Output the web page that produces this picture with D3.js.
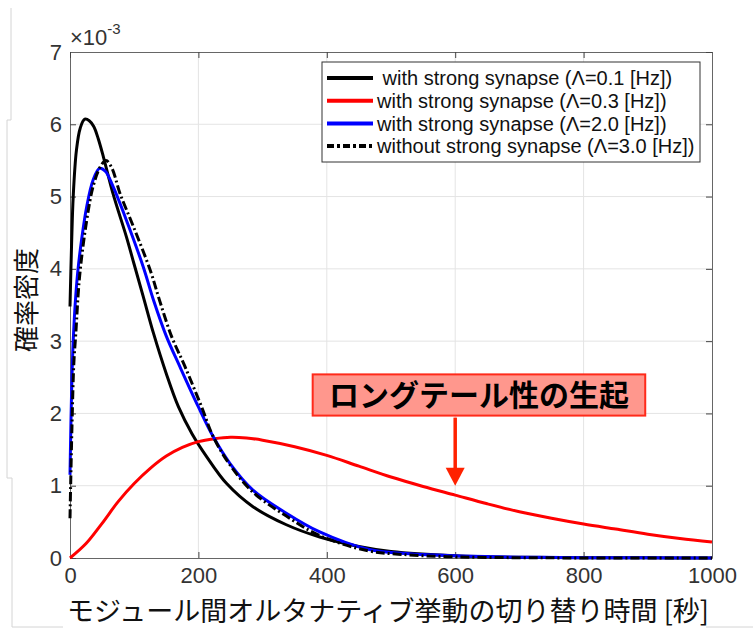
<!DOCTYPE html>
<html><head><meta charset="utf-8">
<script src="https://cdn.jsdelivr.net/npm/d3@7"></script>
<style>body{margin:0;background:#fff} svg{display:block}</style>
</head><body><svg id="c" width="753" height="630"></svg>
<script>
// ---- data ----
const xTicks = [0, 200, 400, 600, 800, 1000];
const yTicks = [0, 1, 2, 3, 4, 5, 6, 7];
const seriesNames = [" with strong synapse (Λ=0.1 [Hz])", "with strong synapse (Λ=0.3 [Hz])", "with strong synapse (Λ=2.0 [Hz])", "without strong synapse (Λ=3.0 [Hz])"];
const seriesColors = ["#000000", "#ff0000", "#0000ff", "#000000"];

const tBlack = [0, 2.5, 5, 10, 16, 23, 30, 37, 44, 52, 67, 88, 100, 114, 130, 150, 169, 190, 213, 244, 285, 337, 389, 450, 500, 600, 700, 800, 900, 1000];
const vBlack = [3.48, 4.35, 5.0, 5.64, 5.95, 6.07, 6.05, 5.97, 5.8, 5.55, 5.04, 4.44, 4.06, 3.62, 3.11, 2.55, 2.09, 1.72, 1.40, 1.03, 0.71, 0.46, 0.29, 0.16, 0.09, 0.03, 0.01, 0.004, 0.002, 0.001];

const tRed = [0, 25, 50, 75, 100, 125, 150, 175, 200, 225, 250, 275, 300, 350, 400, 450, 500, 550, 600, 650, 700, 750, 800, 850, 900, 950, 1000];
const vRed = [0, 0.2, 0.48, 0.78, 1.03, 1.24, 1.41, 1.53, 1.61, 1.65, 1.67, 1.66, 1.63, 1.54, 1.42, 1.27, 1.12, 0.99, 0.87, 0.75, 0.64, 0.55, 0.47, 0.40, 0.33, 0.27, 0.22];

const tBlue = [0, 1.5, 3, 5, 8, 12, 18, 26, 36, 46, 55, 67, 88, 114, 130, 150, 171, 200, 223, 249, 285, 337, 389, 464, 516, 600, 700, 800, 1000];
const vBlue = [1.15, 1.9, 2.5, 3.0, 3.5, 3.95, 4.4, 4.86, 5.23, 5.39, 5.35, 5.14, 4.67, 4.03, 3.57, 3.07, 2.65, 2.09, 1.68, 1.31, 0.94, 0.62, 0.36, 0.12, 0.065, 0.03, 0.012, 0.005, 0.001];

const tDash = [0, 1, 3, 6, 9, 15, 26, 36, 47, 56, 65, 78, 99, 125, 140, 158, 179, 205, 223, 249, 285, 337, 389, 464, 516, 600, 700, 800, 1000];
const vDash = [0.55, 1.0, 1.8, 2.7, 3.1, 3.9, 4.67, 5.14, 5.41, 5.5, 5.4, 5.04, 4.58, 3.98, 3.55, 3.07, 2.65, 2.09, 1.68, 1.29, 0.91, 0.58, 0.31, 0.10, 0.05, 0.015, 0.004, 0.001, 0];

const xLabel = "モジュール間オルタナティブ挙動の切り替り時間 [秒]";
const yLabel = "確率密度";
const noteText = "ロングテール性の生起";

// ---- drawing ----
const svg = d3.select("#c");
const M = {l: 70, r: 712, t: 52, b: 558};
const x = d3.scaleLinear().domain([0, 1000]).range([M.l, M.r]);
const y = d3.scaleLinear().domain([0, 7]).range([M.b, M.t]);
const numFont = "'Liberation Sans', Arial, Helvetica, sans-serif";
const jpFont = "'Noto Sans CJK JP', 'Noto Sans', sans-serif";

// faint frame artifacts
const art = svg.append("g").attr("stroke", "#d4d4d4").attr("fill", "none").attr("stroke-width", 1);
art.append("path").attr("d", "M11,8V120H7V478H12V627H63");
art.append("path").attr("d", "M706,627H753");

// grid
const grid = svg.append("g").attr("stroke", "#e4e4e4").attr("stroke-width", 1);
grid.selectAll(".gx").data(xTicks.slice(1, -1)).join("line")
  .attr("x1", d => x(d)).attr("x2", d => x(d)).attr("y1", M.t).attr("y2", M.b);
grid.selectAll(".gy").data(yTicks.slice(1, -1)).join("line")
  .attr("y1", d => y(d)).attr("y2", d => y(d)).attr("x1", M.l).attr("x2", M.r);

function styleAxis(g) {
  g.select(".domain").attr("stroke", "#666");
  g.selectAll(".tick line").attr("stroke", "#444");
  g.selectAll("text").attr("fill", "#333").style("font-family", numFont).style("font-size", "22px");
}
const fmt = d3.format("d");
svg.append("g").attr("transform", `translate(0,${M.b})`)
  .call(d3.axisBottom(x).tickValues(xTicks).tickFormat(fmt).tickSizeInner(-6).tickSizeOuter(0).tickPadding(9)).call(styleAxis);
svg.append("g").attr("transform", `translate(${M.l},0)`)
  .call(d3.axisLeft(y).tickValues(yTicks).tickFormat(fmt).tickSizeInner(-6).tickSizeOuter(0).tickPadding(8)).call(styleAxis);
svg.append("g").attr("transform", `translate(0,${M.t})`)
  .call(d3.axisTop(x).tickValues(xTicks).tickSizeInner(-6).tickSizeOuter(0).tickFormat("")).call(styleAxis);
svg.append("g").attr("transform", `translate(${M.r},0)`)
  .call(d3.axisRight(y).tickValues(yTicks).tickSizeInner(-6).tickSizeOuter(0).tickFormat("")).call(styleAxis);

// exponent
const ex = svg.append("text").attr("x", 70).attr("y", 45).attr("fill", "#333")
  .style("font-family", numFont).style("font-size", "22px");
ex.append("tspan").text("×10");
ex.append("tspan").attr("dy", -11).style("font-size", "15px").text("-3");

// curves
const line = d3.line().x(d => x(d[0])).y(d => y(d[1])).curve(d3.curveCatmullRom.alpha(0.5));
const series = [
  {t: tBlack, v: vBlack, dash: null},
  {t: tRed, v: vRed, dash: null},
  {t: tBlue, v: vBlue, dash: null},
  {t: tDash, v: vDash, dash: "9,3,2,3"}
];
series.forEach((s, i) => {
  svg.append("path").datum(d3.zip(s.t, s.v)).attr("d", line)
    .attr("fill", "none").attr("stroke", seriesColors[i]).attr("stroke-width", 3)
    .attr("stroke-linejoin", "round")
    .attr("stroke-dasharray", s.dash);
});

// legend
const lg = svg.append("g");
lg.append("rect").attr("x", 322).attr("y", 62).attr("width", 378).attr("height", 100)
  .attr("fill", "#fff").attr("stroke", "#333").attr("stroke-width", 1);
seriesNames.forEach((n, i) => {
  const cy = 78 + i * 22.7;
  lg.append("line").attr("x1", 327).attr("x2", 373).attr("y1", cy).attr("y2", cy)
    .attr("stroke", seriesColors[i]).attr("stroke-width", 4)
    .attr("stroke-dasharray", series[i].dash ? "7,3,3,3" : null);
  lg.append("text").attr("x", 377).attr("y", cy).attr("dy", "0.36em")
    .attr("fill", "#111").style("font-family", numFont).style("font-size", "20px")
    .style("white-space", "pre").attr("xml:space", "preserve").text(n);
});

// annotation
const noteX0 = 378, noteX1 = 896, noteYTop = 2.54, noteYBot = 1.97, arrowT = 600, arrowTip = 1.0;
svg.append("rect").attr("x", x(noteX0)).attr("y", y(noteYTop))
  .attr("width", x(noteX1) - x(noteX0)).attr("height", y(noteYBot) - y(noteYTop))
  .attr("fill", "#ff978d").attr("stroke", "#ff2a1a").attr("stroke-width", 2);
svg.append("text").attr("x", (x(noteX0) + x(noteX1)) / 2).attr("y", (y(noteYTop) + y(noteYBot)) / 2)
  .attr("dy", "0.36em").attr("text-anchor", "middle").attr("fill", "#000")
  .style("font-family", jpFont).style("font-weight", "bold").style("font-size", "30px").text(noteText);
const ax = x(arrowT), ayTop = y(noteYBot) + 2, ayTip = y(arrowTip);
svg.append("line").attr("x1", ax).attr("x2", ax).attr("y1", ayTop).attr("y2", ayTip - 16)
  .attr("stroke", "#ff2200").attr("stroke-width", 3.5);
svg.append("path").attr("d", `M${ax - 9.5},${ayTip - 18}L${ax + 9.5},${ayTip - 18}L${ax},${ayTip}Z`)
  .attr("fill", "#ff2200");

// axis titles
svg.append("text").attr("x", 388).attr("y", 611).attr("dy", "0.36em").attr("text-anchor", "middle")
  .attr("fill", "#111").style("font-family", jpFont).style("font-size", "27px").text(xLabel);
svg.append("text").attr("transform", "translate(27,300) rotate(-90)").attr("dy", "0.36em")
  .attr("text-anchor", "middle").attr("fill", "#111")
  .style("font-family", jpFont).style("font-size", "26px").text(yLabel);
</script></body></html>
